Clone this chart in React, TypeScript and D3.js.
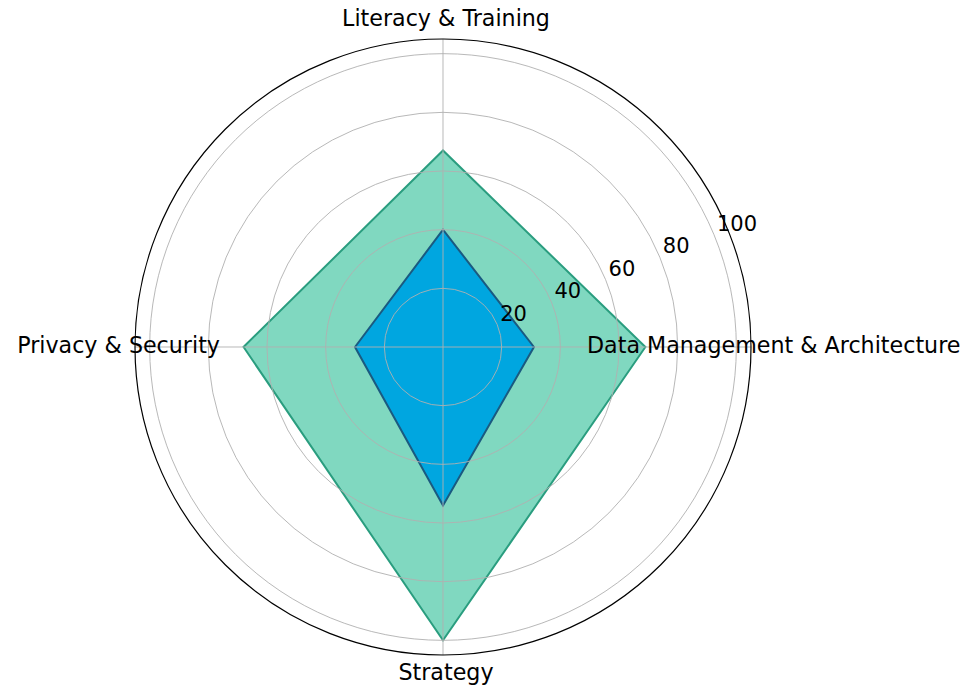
import * as d3 from 'd3';
import React, { useEffect, useRef } from 'react';

const categories = [
  'Data Management & Architecture',
  'Literacy & Training',
  'Privacy & Security',
  'Strategy',
];
const targetScores = [69, 67, 68, 100];
const currentScores = [31, 40, 30, 54];
const radialTicks = [20, 40, 60, 80, 100];

export default function App() {
  const svgRef = useRef<SVGSVGElement | null>(null);
  const width = 971;
  const height = 694;

  useEffect(() => {
    const svg = d3.select(svgRef.current);
    svg.selectAll('*').remove();

    const cx = 443;
    const cy = 347;
    const outer = 308;
    const font = 'DejaVu Sans, sans-serif';

    const r = d3.scaleLinear().domain([0, 105]).range([0, outer]);
    // counterclockwise from east, like matplotlib polar
    const angle = d3
      .scaleLinear()
      .domain([0, categories.length])
      .range([0, 2 * Math.PI]);

    const g = svg.append('g').attr('transform', `translate(${cx},${cy})`);

    const pt = (i: number, v: number): [number, number] => [
      r(v) * Math.cos(angle(i)),
      -r(v) * Math.sin(angle(i)),
    ];

    const line = d3.line<[number, number]>().curve(d3.curveLinearClosed);

    g.append('path')
      .attr('d', line(targetScores.map((v, i) => pt(i, v))))
      .attr('fill', '#80d8c0')
      .attr('stroke', '#2a9d7f')
      .attr('stroke-width', 2);

    g.append('path')
      .attr('d', line(currentScores.map((v, i) => pt(i, v))))
      .attr('fill', '#00a6e0')
      .attr('stroke', '#1a5a80')
      .attr('stroke-width', 2);

    // grid on top of fills
    g.selectAll('.ring')
      .data(radialTicks)
      .enter()
      .append('circle')
      .attr('class', 'ring')
      .attr('r', (d) => r(d))
      .attr('fill', 'none')
      .attr('stroke', '#b0b0b0')
      .attr('stroke-opacity', 0.9)
      .attr('stroke-width', 1);

    g.selectAll('.spoke')
      .data(categories)
      .enter()
      .append('line')
      .attr('class', 'spoke')
      .attr('x1', 0)
      .attr('y1', 0)
      .attr('x2', (d, i) => pt(i, 105)[0])
      .attr('y2', (d, i) => pt(i, 105)[1])
      .attr('stroke', '#b0b0b0')
      .attr('stroke-opacity', 0.9)
      .attr('stroke-width', 1);

    g.append('circle')
      .attr('r', outer)
      .attr('fill', 'none')
      .attr('stroke', 'black')
      .attr('stroke-width', 1.2);

    // radial tick labels at 22.5 deg
    const la = (22.5 * Math.PI) / 180;
    g.selectAll('.rlabel')
      .data(radialTicks)
      .enter()
      .append('text')
      .attr('class', 'rlabel')
      .attr('x', (d) => r(d) * Math.cos(la) + 3)
      .attr('y', (d) => -r(d) * Math.sin(la) - 4)
      .attr('font-family', font)
      .attr('font-size', 21)
      .text((d) => d);

    // category labels
    const labelPos = [
      { x: 144, y: 6, anchor: 'start' },
      { x: 3, y: -321, anchor: 'middle' },
      { x: -223, y: 6, anchor: 'end' },
      { x: 3, y: 333, anchor: 'middle' },
    ];
    g.selectAll('.clabel')
      .data(categories)
      .enter()
      .append('text')
      .attr('class', 'clabel')
      .attr('x', (d, i) => labelPos[i].x)
      .attr('y', (d, i) => labelPos[i].y)
      .attr('text-anchor', (d, i) => labelPos[i].anchor)
      .attr('font-family', font)
      .attr('font-size', 22.2)
      .text((d) => d);
  }, []);

  return (
    <svg
      ref={svgRef}
      width={width}
      height={height}
      style={{ position: 'absolute', left: 0, top: 0, background: 'white' }}
    ></svg>
  );
}
